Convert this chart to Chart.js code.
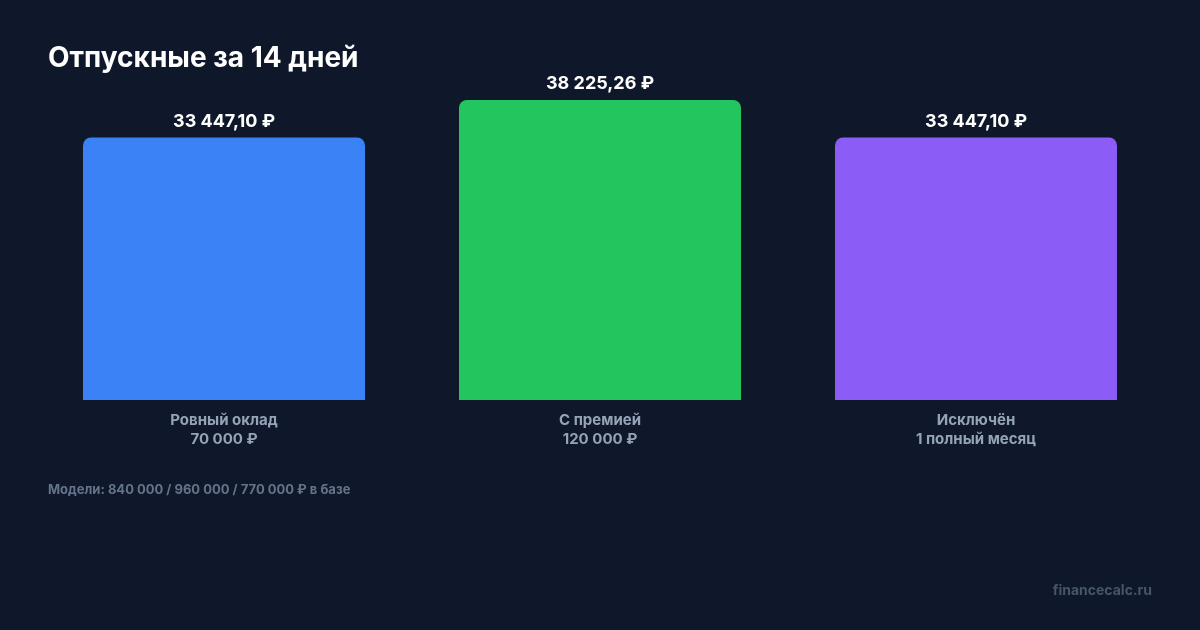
<!DOCTYPE html>
<html lang="ru">
<head>
<meta charset="utf-8">
<title>Отпускные за 14 дней</title>
<script src="https://cdn.jsdelivr.net/npm/chart.js@4/dist/chart.umd.min.js"></script>
<style>
  html, body { margin: 0; padding: 0; background: #0f172a; }
  body { width: 1200px; height: 630px; position: relative; overflow: hidden; font-family: Inter, "Noto Sans", sans-serif; }
  #wrap { position: absolute; left: 0; top: 0; width: 1200px; height: 630px; }
  .title { position: absolute; left: 48px; top: 43px; margin: 0; font-size: 28px; line-height: 28px; font-weight: 700; color: #ffffff; white-space: nowrap; }
  .note { position: absolute; left: 48px; top: 483px; font-size: 13px; line-height: 13px; font-weight: 700; color: #64748b; white-space: nowrap; }
  .brand { position: absolute; right: 48px; top: 583px; font-size: 14px; line-height: 14px; font-weight: 700; color: #475569; white-space: nowrap; }
</style>
</head>
<body>
<div id="wrap"><canvas id="chart" width="1200" height="630"></canvas></div>
<h1 class="title">Отпускные за 14 дней</h1>
<div class="note">Модели: 840 000 / 960 000 / 770 000 ₽ в базе</div>
<div class="brand">financecalc.ru</div>
<script>
const categories = [
    ['Ровный оклад', '70 000 ₽'],
    ['С премией', '120 000 ₽'],
    ['Исключён', '1 полный месяц']
];
const vacationPay = [33447.10, 38225.26, 33447.10];
const valueLabels = ['33 447,10 ₽', '38 225,26 ₽', '33 447,10 ₽'];
const barColors = ['#3b82f6', '#22c55e', '#8b5cf6'];

// подписи над столбцами
const valueLabelPlugin = {
    id: 'valueLabels',
    afterDatasetsDraw(chart) {
        const ctx = chart.ctx;
        const meta = chart.getDatasetMeta(0);
        ctx.save();
        ctx.font = '700 18px Inter, "Noto Sans", sans-serif';
        ctx.fillStyle = '#ffffff';
        ctx.textAlign = 'center';
        ctx.textBaseline = 'alphabetic';
        meta.data.forEach(function(bar, i) {
            ctx.fillText(valueLabels[i], bar.x, bar.y - 11);
        });
        ctx.restore();
    }
};

Chart.defaults.font.family = 'Inter, "Noto Sans", sans-serif';

new Chart(document.getElementById('chart').getContext('2d'), {
    type: 'bar',
    data: {
        labels: categories,
        datasets: [{
            data: vacationPay,
            backgroundColor: barColors,
            borderRadius: 8,
            borderSkipped: 'bottom',
            barPercentage: 0.75,
            categoryPercentage: 1
        }]
    },
    options: {
        responsive: false,
        animation: false,
        devicePixelRatio: 1,
        layout: { padding: { left: 36, right: 36, top: 100, bottom: 0 } },
        plugins: {
            legend: { display: false },
            tooltip: { enabled: false }
        },
        scales: {
            x: {
                grid: { display: false, drawTicks: false },
                border: { display: false },
                ticks: {
                    color: '#94a3b8',
                    font: { size: 15, weight: '700', lineHeight: 1.27 },
                    padding: 11,
                    maxRotation: 0,
                    autoSkip: false
                },
                afterFit: function(scale) { scale.height = 230; }
            },
            y: {
                display: false,
                min: 0,
                max: 38225.26
            }
        }
    },
    plugins: [valueLabelPlugin]
});
</script>
</body>
</html>
